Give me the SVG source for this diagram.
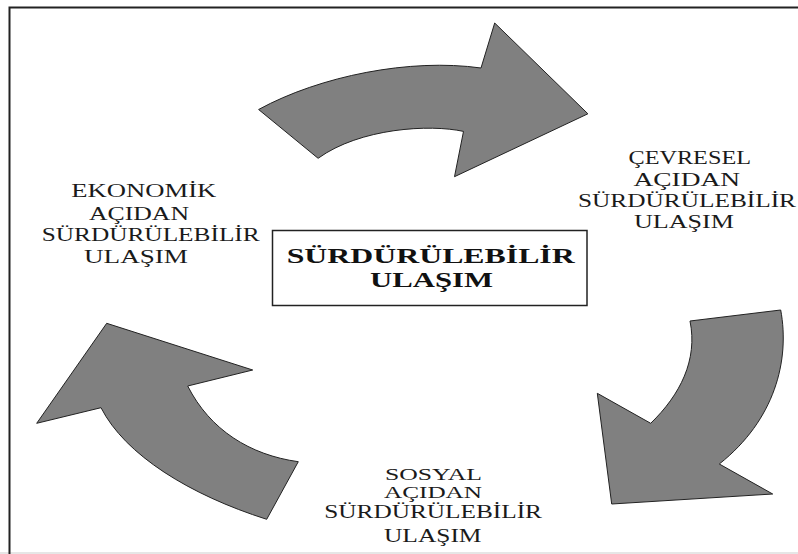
<svg xmlns="http://www.w3.org/2000/svg" width="798" height="554" viewBox="0 0 798 554">
<style>
.arrow{fill:#808080;stroke:#222;stroke-width:1}
.lbl{font-family:"Liberation Serif","DejaVu Serif",serif;font-size:18px;fill:#1a1a1a}
.sm{font-size:16px}
.title{font-family:"Liberation Serif","DejaVu Serif",serif;font-size:20px;font-weight:bold;fill:#111}
</style>
<rect x="0" y="0" width="798" height="554" fill="#fff"/>
<rect x="0" y="552" width="798" height="2" fill="#e6e6e6"/>
<path d="M9.5,554 V7.5 H800" fill="none" stroke="#222" stroke-width="2"/>
<g id="connectors">
<path id="arrow-top" class="arrow" d="M258.6,109.5 C320,76 410,58 481,68 L494.7,23 L587.9,113.8 L454.5,176.7 L463.5,131.4 C430,124 360,128 318.1,158.3 Z"/>
<path id="arrow-right" class="arrow" d="M780.7,310 C790,360 775,420 719.3,464 L772.7,494 L611.7,504 L597.3,393.3 L650.7,423.3 C680,395 698,360 690,321 Z"/>
<path id="arrow-left" class="arrow" d="M266.7,519.3 C190,495 125,455 101,407.7 L36.7,423.3 L106.7,323.3 L252.7,370 L187.7,386 C210,430 250,455 298.3,461.7 Z"/>
</g>
<g id="center">
<rect x="272.5" y="230.5" width="314.5" height="75" fill="#fff" stroke="#222" stroke-width="1.5"/>
<text class="title" x="286.7" y="262.7" textLength="288" lengthAdjust="spacingAndGlyphs">SÜRDÜRÜLEBİLİR</text>
<text class="title" x="370" y="286.7" textLength="123" lengthAdjust="spacingAndGlyphs">ULAŞIM</text>
</g>
<g id="ekonomik">
<text class="lbl" x="71.3" y="197" textLength="145" lengthAdjust="spacingAndGlyphs">EKONOMİK</text>
<text class="lbl" x="89" y="219.5" textLength="100" lengthAdjust="spacingAndGlyphs">AÇIDAN</text>
<text class="lbl" x="41.7" y="241.3" textLength="218" lengthAdjust="spacingAndGlyphs">SÜRDÜRÜLEBİLİR</text>
<text class="lbl" x="84" y="263" textLength="104" lengthAdjust="spacingAndGlyphs">ULAŞIM</text>
</g>
<g id="cevresel">
<text class="lbl" x="628.5" y="164" textLength="122.5" lengthAdjust="spacingAndGlyphs">ÇEVRESEL</text>
<text class="lbl" x="633.5" y="185.5" textLength="106.5" lengthAdjust="spacingAndGlyphs">AÇIDAN</text>
<text class="lbl" x="578" y="207" textLength="218" lengthAdjust="spacingAndGlyphs">SÜRDÜRÜLEBİLİR</text>
<text class="lbl" x="634" y="228" textLength="100" lengthAdjust="spacingAndGlyphs">ULAŞIM</text>
</g>
<g id="sosyal">
<text class="lbl sm" x="385" y="480" textLength="97" lengthAdjust="spacingAndGlyphs">SOSYAL</text>
<text class="lbl sm" x="384" y="498" textLength="98" lengthAdjust="spacingAndGlyphs">AÇIDAN</text>
<text class="lbl" x="324.2" y="518" textLength="217.8" lengthAdjust="spacingAndGlyphs">SÜRDÜRÜLEBİLİR</text>
<text class="lbl" x="384" y="542" textLength="97.5" lengthAdjust="spacingAndGlyphs">ULAŞIM</text>
</g>
</svg>
